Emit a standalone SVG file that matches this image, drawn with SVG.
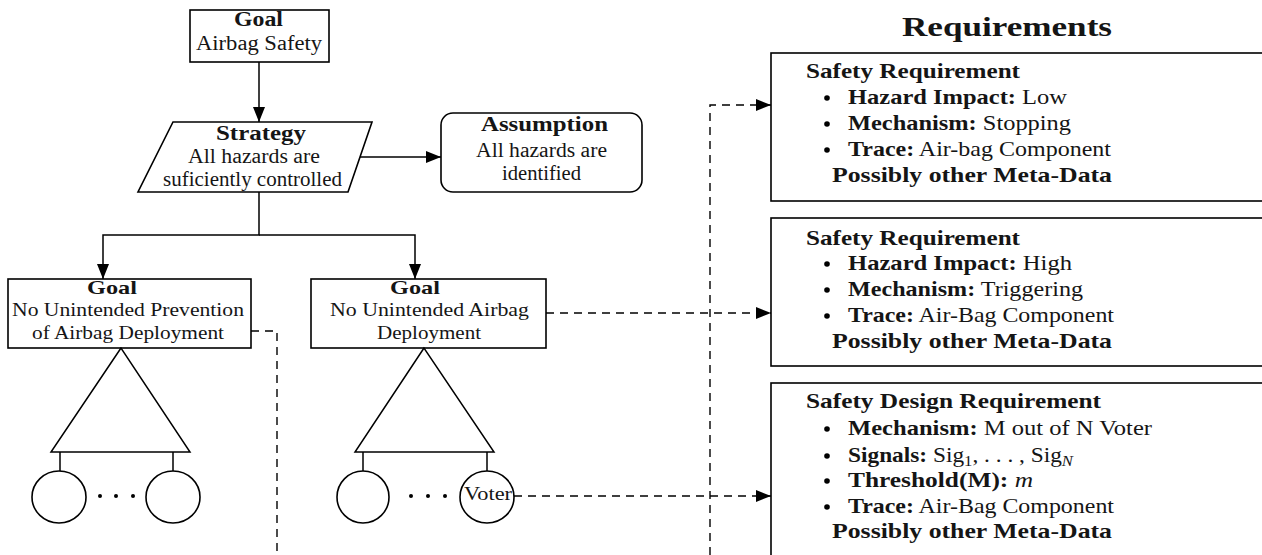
<svg xmlns="http://www.w3.org/2000/svg" width="1262" height="555" viewBox="0 0 1262 555">
<style>
.bx{fill:#fff;stroke:#000;stroke-width:1.6}
.ln{fill:none;stroke:#000;stroke-width:1.5}
.ds{fill:none;stroke:#000;stroke-width:1.4;stroke-dasharray:8,6}
text{font-family:"Liberation Serif","Times New Roman",serif;fill:#151515}
.t{font-size:20px}
.g{font-size:19.5px}
.b{font-weight:bold}
.r{font-size:21px}
.dot{fill:#000}
</style>
<defs>
<marker id="ah" markerUnits="userSpaceOnUse" markerWidth="16" markerHeight="12" refX="15" refY="6" orient="auto">
<path d="M0,0 L15,6 L0,12 z" fill="#000"/>
</marker>
</defs>
<rect width="1262" height="555" fill="#fff"/>

<g id="connectors">
<path class="ln" d="M259,62 V122" marker-end="url(#ah)"/>
<path class="ln" d="M360,157 H441" marker-end="url(#ah)"/>
<path class="ln" d="M259,192 V235 H103 V279" marker-end="url(#ah)"/>
<path class="ln" d="M259,235 H415 V279" marker-end="url(#ah)"/>
<path class="ds" d="M251,331 H277 V555"/>
<path class="ds" d="M710,555 V105 H771" marker-end="url(#ah)"/>
<path class="ds" d="M546,313 H771" marker-end="url(#ah)"/>
<path class="ds" d="M514,496 H771" marker-end="url(#ah)"/>
</g>

<g id="goal-top">
<rect class="bx" x="190" y="10" width="139" height="52"/>
<text class="t b" x="234" y="26" textLength="49" lengthAdjust="spacingAndGlyphs">Goal</text>
<text class="t" x="196" y="50" textLength="126" lengthAdjust="spacingAndGlyphs">Airbag Safety</text>
</g>

<g id="strategy">
<path class="bx" d="M173,122 H372 L348,192 H138 Z"/>
<text class="t b" x="216" y="140" textLength="90" lengthAdjust="spacingAndGlyphs">Strategy</text>
<text class="t" x="188" y="163" textLength="132" lengthAdjust="spacingAndGlyphs">All hazards are</text>
<text class="t" x="163" y="186" textLength="179" lengthAdjust="spacingAndGlyphs">suficiently controlled</text>
</g>

<g id="assumption">
<rect class="bx" x="441" y="113" width="201" height="79" rx="12" ry="12"/>
<text class="t b" x="481" y="131" textLength="127" lengthAdjust="spacingAndGlyphs">Assumption</text>
<text class="t" x="476" y="157" textLength="131" lengthAdjust="spacingAndGlyphs">All hazards are</text>
<text class="t" x="502" y="180" textLength="79" lengthAdjust="spacingAndGlyphs">identified</text>
</g>

<g id="goal-prevention">
<rect class="bx" x="8" y="279" width="243" height="69"/>
<text class="g b" x="87" y="294" textLength="50" lengthAdjust="spacingAndGlyphs">Goal</text>
<text class="g" x="12" y="316" textLength="232" lengthAdjust="spacingAndGlyphs">No Unintended Prevention</text>
<text class="g" x="32" y="339" textLength="192" lengthAdjust="spacingAndGlyphs">of Airbag Deployment</text>
</g>

<g id="tree-left">
<path class="ln" d="M121,348 L51,452 H190 Z"/>
<path class="ln" d="M60,452 V471 M173,452 V471"/>
<ellipse class="bx" cx="59" cy="497" rx="27" ry="26"/>
<ellipse class="bx" cx="173" cy="497" rx="27" ry="26"/>
<circle class="dot" cx="100" cy="496" r="2"/>
<circle class="dot" cx="116" cy="496" r="2"/>
<circle class="dot" cx="133" cy="496" r="2"/>
</g>

<g id="goal-deployment">
<rect class="bx" x="311" y="279" width="235" height="69"/>
<text class="g b" x="390" y="294" textLength="50" lengthAdjust="spacingAndGlyphs">Goal</text>
<text class="g" x="330" y="316" textLength="199" lengthAdjust="spacingAndGlyphs">No Unintended Airbag</text>
<text class="g" x="377" y="339" textLength="104" lengthAdjust="spacingAndGlyphs">Deployment</text>
</g>

<g id="tree-right">
<path class="ln" d="M424,348 L355,452 H494 Z"/>
<path class="ln" d="M363,452 V471 M487,452 V471"/>
<ellipse class="bx" cx="363" cy="497" rx="26" ry="26"/>
<circle class="dot" cx="411" cy="496" r="2"/>
<circle class="dot" cx="428" cy="496" r="2"/>
<circle class="dot" cx="445" cy="496" r="2"/>
</g>

<g id="voter">
<ellipse class="bx" cx="487" cy="497" rx="27" ry="26"/>
<text class="t" x="464" y="500" style="font-size:19px" textLength="48" lengthAdjust="spacingAndGlyphs">Voter</text>
</g>

<g id="title">
<text class="b" x="902" y="36" style="font-size:28px" textLength="210" lengthAdjust="spacingAndGlyphs">Requirements</text>
</g>

<g id="req1">
<rect class="bx" x="771" y="53" width="500" height="148"/>
<text class="r b" x="806" y="78" textLength="214" lengthAdjust="spacingAndGlyphs">Safety Requirement</text>
<circle class="dot" cx="827" cy="98" r="2.8"/>
<text class="r" x="848" y="104" textLength="219" lengthAdjust="spacingAndGlyphs"><tspan class="b">Hazard Impact:</tspan> Low</text>
<circle class="dot" cx="827" cy="124" r="2.8"/>
<text class="r" x="848" y="130" textLength="223" lengthAdjust="spacingAndGlyphs"><tspan class="b">Mechanism:</tspan> Stopping</text>
<circle class="dot" cx="827" cy="150" r="2.8"/>
<text class="r" x="848" y="156" textLength="263" lengthAdjust="spacingAndGlyphs"><tspan class="b">Trace:</tspan> Air-bag Component</text>
<text class="r b" x="832" y="182" textLength="280" lengthAdjust="spacingAndGlyphs">Possibly other Meta-Data</text>
</g>

<g id="req2">
<rect class="bx" x="771" y="218" width="500" height="148"/>
<text class="r b" x="806" y="245" textLength="214" lengthAdjust="spacingAndGlyphs">Safety Requirement</text>
<circle class="dot" cx="827" cy="264" r="2.8"/>
<text class="r" x="848" y="270" textLength="224" lengthAdjust="spacingAndGlyphs"><tspan class="b">Hazard Impact:</tspan> High</text>
<circle class="dot" cx="827" cy="290" r="2.8"/>
<text class="r" x="848" y="296" textLength="235" lengthAdjust="spacingAndGlyphs"><tspan class="b">Mechanism:</tspan> Triggering</text>
<circle class="dot" cx="827" cy="316" r="2.8"/>
<text class="r" x="848" y="322" textLength="266" lengthAdjust="spacingAndGlyphs"><tspan class="b">Trace:</tspan> Air-Bag Component</text>
<text class="r b" x="832" y="348" textLength="280" lengthAdjust="spacingAndGlyphs">Possibly other Meta-Data</text>
</g>

<g id="req3">
<rect class="bx" x="771" y="383" width="500" height="200"/>
<text class="r b" x="806" y="408" textLength="295" lengthAdjust="spacingAndGlyphs">Safety Design Requirement</text>
<circle class="dot" cx="827" cy="429" r="2.8"/>
<text class="r" x="848" y="435" textLength="304" lengthAdjust="spacingAndGlyphs"><tspan class="b">Mechanism:</tspan> M out of N Voter</text>
<circle class="dot" cx="827" cy="456" r="2.8"/>
<text class="r" x="848" y="462" textLength="225" lengthAdjust="spacingAndGlyphs"><tspan class="b">Signals:</tspan> Sig<tspan dy="4" style="font-size:15px">1</tspan><tspan dy="-4">, . . . , Sig</tspan><tspan dy="4" style="font-size:15px;font-style:italic">N</tspan></text>
<circle class="dot" cx="827" cy="481" r="2.8"/>
<text class="r" x="848" y="487" textLength="185" lengthAdjust="spacingAndGlyphs"><tspan class="b">Threshold(M):</tspan> <tspan style="font-style:italic">m</tspan></text>
<circle class="dot" cx="827" cy="507" r="2.8"/>
<text class="r" x="848" y="513" textLength="266" lengthAdjust="spacingAndGlyphs"><tspan class="b">Trace:</tspan> Air-Bag Component</text>
<text class="r b" x="832" y="538" textLength="280" lengthAdjust="spacingAndGlyphs">Possibly other Meta-Data</text>
</g>
</svg>
